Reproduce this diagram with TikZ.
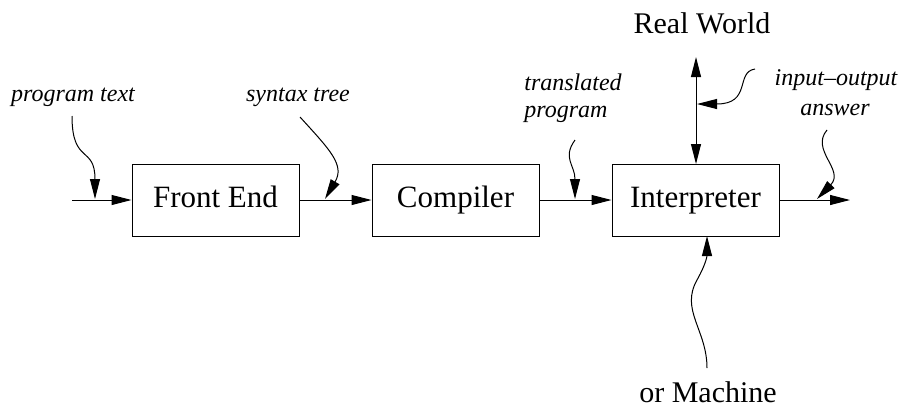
\documentclass[tikz,border=0pt]{standalone}
\usepackage{fontspec}
\setmainfont{Liberation Serif}
\usetikzlibrary{arrows.meta}
\tikzset{
  blk/.style={draw, line width=1pt, minimum width=167pt, minimum height=72pt, inner sep=0pt, text height=20pt, text depth=6pt, font=\fontsize{31}{33}\selectfont},
  lbl/.style={font=\fontsize{24}{27}\selectfont\itshape, inner sep=0pt, align=center},
  big/.style={font=\fontsize{30}{32}\selectfont, inner sep=0pt},
  conn/.style={line width=1pt, -{Triangle[length=20pt,width=10pt]}},
  wig/.style={line width=1pt, -{Triangle[length=20pt,width=10pt]}}
}
\begin{document}
\begin{tikzpicture}[x=1pt,y=-1pt]
\useasboundingbox (0,0) rectangle (905,408);
\node[blk] (fe) at (215.5,200) {Front End};
\node[blk] (cp) at (455.5,200) {Compiler};
\node[blk] (ip) at (695.5,200) {Interpreter};
\coordinate (in) at (72,200);
\coordinate (out) at (850,200);
\draw[conn] (in) -- (fe.west);
\draw[conn] (fe.east) -- (cp.west);
\draw[conn] (cp.east) -- (ip.west);
\draw[conn] (ip.east) -- (out);
% labels
\node[lbl] (pt) at (73,97) {program text};
\node[lbl] (st) at (298,97) {syntax tree};
\node[lbl, align=left] (tp) at (573,98) {translated\\program};
\node[lbl] (io) at (836,80) {input--output};
\node[lbl] (an) at (835,110) {answer};
\node[big] (rw) at (702,23) {Real World};
\node[big] (om) at (708,392) {or Machine};
\coordinate (pt1) at (72,116);
\coordinate (pt2) at (95,199);
\draw[wig] (pt1) .. controls (72,165) and (95,145) .. (pt2);
\coordinate (st1) at (300,117);
\coordinate (st2) at (325,199);
\draw[wig] (st1) .. controls (330,150) and (345,165) .. (st2);
\coordinate (tp1) at (575,140);
\coordinate (tp2) at (575,199);
\draw[wig] (tp1) .. controls (562,158) and (575,165) .. (tp2);
% real world double arrow
\coordinate (rwt) at (696,57);
\coordinate (rwb) at (696,164);
\draw[line width=1pt, {Triangle[length=20pt,width=10pt]}-{Triangle[length=20pt,width=10pt]}] (rwt) -- (rwb);
\coordinate (io1) at (755,69);
\coordinate (io2) at (697,104);
\draw[wig] (io1) .. controls (735,72) and (752,104) .. (io2);
\coordinate (an1) at (827,130);
\coordinate (an2) at (817,199);
\draw[wig] (an1) .. controls (810,150) and (845,170) .. (an2);
\coordinate (om1) at (707,368);
\coordinate (om2) at (707,236);
\draw[wig] (om1) .. controls (707,330) and (680,310) .. (697,280) .. controls (707,262) and (707,255) .. (om2);
\end{tikzpicture}
\end{document}
